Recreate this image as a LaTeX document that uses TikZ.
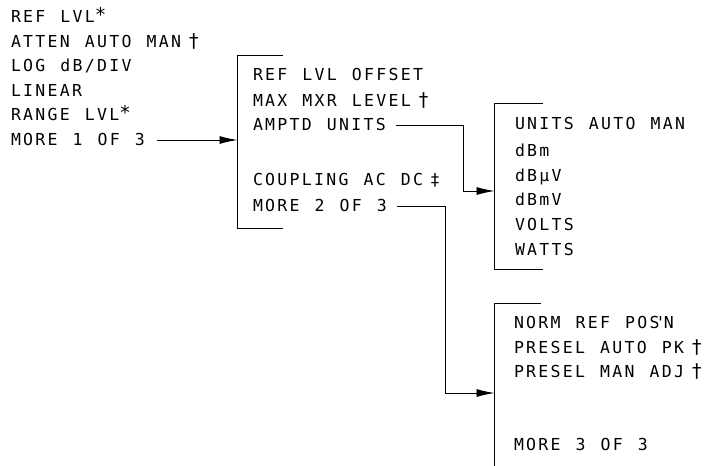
\documentclass[tikz,border=0pt]{standalone}
\usepackage{fontspec}
\usetikzlibrary{arrows.meta,calc}
\newfontfamily\plotfont{DejaVu Sans Mono}[LetterSpace=14,WordSpace=1.23]
\tikzset{
  item/.style={anchor=base west,inner sep=0pt,outer sep=0pt,font=\plotfont\fontsize{16.5}{16.5}\selectfont},
  frame/.style={line width=0.9pt},
  conn/.style={line width=0.9pt,-{Latex[length=18pt,width=8pt]}}
}
\newcommand\dg{\kern7pt{\fontsize{19}{19}\selectfont †}}
\newcommand\ddg{\kern7pt‡}
\newcommand\starmark{\raisebox{1pt}{\fontsize{19}{19}\selectfont *}}
\begin{document}
\begin{tikzpicture}[x=1pt,y=-1pt]
\useasboundingbox (0,0) rectangle (716,466);
% left menu
\node[item] (l1) at (11,22.5) {REF LVL\starmark};
\node[item] (l2) at (11,47) {ATTEN AUTO MAN\dg};
\node[item] (l3) at (11,71.5) {LOG dB/DIV};
\node[item] (l4) at (11,96) {LINEAR};
\node[item] (l5) at (11,120.5) {RANGE LVL\starmark};
\node[item] (l6) at (11,145.5) {MORE 1 OF 3};
% box 2
\coordinate (b2t) at (283,55);
\coordinate (b2tl) at (237.5,55);
\coordinate (b2bl) at (237.5,228);
\coordinate (b2b) at (283,228);
\draw[frame] (b2t) -- (b2tl) -- (b2bl) -- (b2b);
\node[item] (m1) at (253,80.5) {REF LVL OFFSET};
\node[item] (m2) at (253,106.5) {MAX MXR LEVEL\dg};
\node[item] (m3) at (253,130.5) {AMPTD UNITS};
\node[item] (m5) at (253,185.5) {COUPLING AC DC\ddg};
\node[item] (m6) at (253,211.5) {MORE 2 OF 3};
% box 3
\coordinate (b3t) at (543,103);
\coordinate (b3tl) at (494.5,103);
\coordinate (b3bl) at (494.5,269);
\coordinate (b3b) at (543,269);
\draw[frame] (b3t) -- (b3tl) -- (b3bl) -- (b3b);
\node[item] (u1) at (515,129.5) {UNITS AUTO MAN};
\node[item] (u2) at (515,156.5) {dBm};
\node[item] (u3) at (515,181.5) {dBμV};
\node[item] (u4) at (515,205.5) {dBmV};
\node[item] (u5) at (515,230.5) {VOLTS};
\node[item] (u6) at (515,255.5) {WATTS};
% box 4
\coordinate (b4t) at (541,303);
\coordinate (b4tl) at (494.5,303);
\coordinate (b4bl) at (494.5,466);
\draw[frame] (b4t) -- (b4tl) -- (b4bl);
\node[item] (p1) at (514,328.5) {NORM REF POS\kern-0.25em'\kern-0.1em N};
\node[item] (p2) at (514,353.5) {PRESEL AUTO PK\dg};
\node[item] (p3) at (514,377.5) {PRESEL MAN ADJ\dg};
\node[item] (p6) at (514,450.5) {MORE 3 OF 3};
% connectors
\coordinate (a1) at (237.5,140);
\coordinate (a2) at (494.5,191);
\coordinate (a3) at (494.5,393);
\coordinate (k2) at (463,125);
\coordinate (k3) at (445,206);
\coordinate (s1) at ($(l6.base east)+(12,0)$);
\coordinate (s2) at ($(m3.base east)+(10,0)$);
\coordinate (s3) at ($(m6.base east)+(10,0)$);
\draw[conn] (s1 |- a1) -- (a1);
\draw[conn] (s2 |- k2) -- (k2) |- (a2);
\draw[conn] (s3 |- k3) -- (k3) |- (a3);
\end{tikzpicture}
\end{document}
